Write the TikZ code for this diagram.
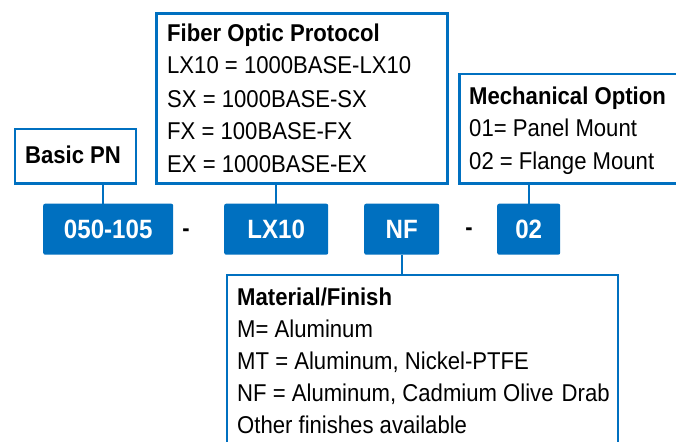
\documentclass[tikz,border=0pt]{standalone}
\usepackage{fontspec}
\setmainfont[FakeStretch=0.91]{Liberation Sans}
\definecolor{pnblue}{HTML}{0070C0}
\begin{document}
\begin{tikzpicture}[x=1pt,y=-1pt,
  infobox/.style={draw=pnblue,line width=2.5pt,fill=white,inner sep=0pt,anchor=north west},
  pnbox/.style={fill=pnblue,rounded corners=2pt,inner sep=0pt,anchor=north west,minimum height=51pt,
    text=white,font=\fontsize{26.5}{30}\selectfont\bfseries},
  txt/.style={anchor=base west,inner sep=0pt,font=\fontsize{24.3}{30}\selectfont},
  head/.style={anchor=base west,inner sep=0pt,font=\fontsize{24.3}{30}\selectfont\bfseries},
  sep/.style={inner sep=0pt,font=\fontsize{24}{30}\selectfont\bfseries},
  link/.style={draw=pnblue,line width=2pt}]
\clip (0,0) rectangle (676,441);
\fill[white] (0,0) rectangle (676,441);

% info boxes
\node[infobox,minimum width=121pt,minimum height=54.5pt] (basic) at (13.5,127.5) {};
\node[infobox,minimum width=291pt,minimum height=169.7pt] (fiber) at (155.3,12.3) {};
\node[infobox,minimum width=260pt,minimum height=109.6pt] (mech) at (458.3,72.7) {};
\node[infobox,minimum width=391pt,minimum height=220pt] (mat) at (225.7,273.7) {};

% part number boxes
\node[pnbox,minimum width=130pt] (pn) at (43,203.5) {050-105};
\node[pnbox,minimum width=104pt] (lx) at (224,203.5) {LX10};
\node[pnbox,minimum width=75pt] (nf) at (364,203.5) {NF};
\node[pnbox,minimum width=63pt] (o2) at (497,203.5) {02};

% separators
\node[sep] (d1) at (186,233) {-};
\node[sep] (d2) at (469,232) {-};

% connectors
\coordinate (c1) at (103,0);
\draw[link] (basic.south -| c1) -- (pn.north -| c1);
\draw[link] (lx.north |- fiber.south) -- (lx.north);
\draw[link] (nf.south) -- (nf.south |- mat.north);
\draw[link] (o2.north) -- (o2.north |- mech.south);

% texts
\node[inner sep=0pt,font=\fontsize{24.3}{30}\selectfont\bfseries,anchor=base] (tb) at (73,163) {Basic PN};

\node[head] (f1) at (167,41.5) {Fiber Optic Protocol};
\node[txt] (f2) at (167,74) {LX10 = 1000BASE-LX10};
\node[txt] (f3) at (167,107) {SX = 1000BASE-SX};
\node[txt] (f4) at (167,139.5) {FX = 100BASE-FX};
\node[txt] (f5) at (167,172) {EX = 1000BASE-EX};

\node[head] (m1) at (469,105) {Mechanical Option};
\node[txt] (m2) at (469,136.5) {01= Panel Mount};
\node[txt] (m3) at (469,169) {02 = Flange Mount};

\node[head] (t1) at (237,305) {Material/Finish};
\node[txt] (t2) at (237,337) {M= Aluminum};
\node[txt] (t3) at (237,369.5) {MT = Aluminum, Nickel-PTFE};
\node[txt] (t4) at (237,401.5) {NF = Aluminum, Cadmium Olive\hspace{2pt} Drab};
\node[txt] (t5) at (237,433.5) {Other finishes available};
\end{tikzpicture}
\end{document}
